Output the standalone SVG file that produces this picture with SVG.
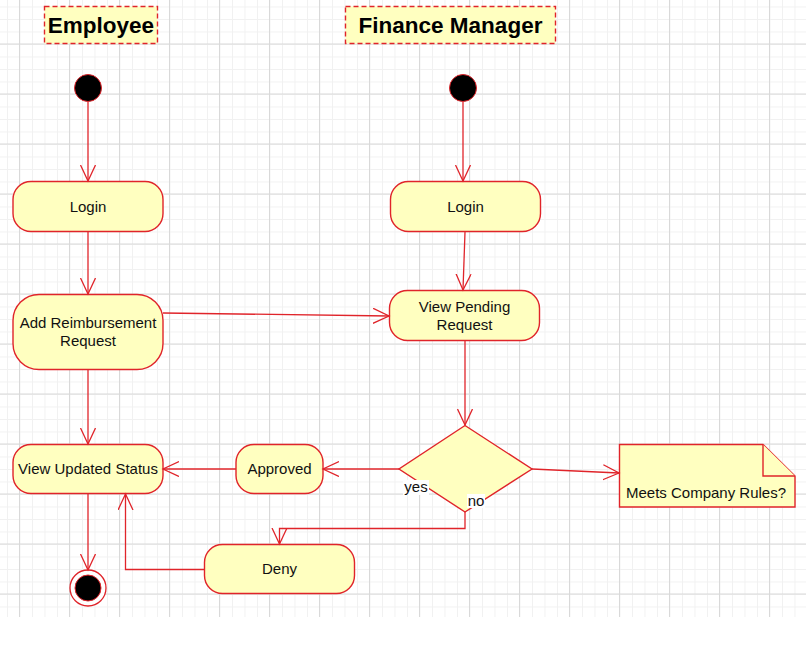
<svg xmlns="http://www.w3.org/2000/svg" width="806" height="672" viewBox="0 0 806 672">
<defs>
<pattern id="minor" width="12.5" height="12.5" patternUnits="userSpaceOnUse" x="7" y="6.5">
<path d="M0,0.5 H12.5 M0.5,0 V12.5" fill="none" stroke="#f1f1f1" stroke-width="1"/>
</pattern>
<pattern id="major" width="50" height="50" patternUnits="userSpaceOnUse" x="19" y="43.5">
<path d="M0,0.5 H50 M0.5,0 V50" fill="none" stroke="#d9d9d9" stroke-width="1"/>
</pattern>
<marker id="arr" markerWidth="18" markerHeight="18" refX="16" refY="8" orient="auto" markerUnits="userSpaceOnUse">
<path d="M0,0.5 L16,8 L0,15.5" fill="none" stroke="#e0242a" stroke-width="1.3"/>
</marker>
<style>
.n{fill:#ffffc0;stroke:#e0242a;stroke-width:1.4}
.t{font-family:"Liberation Sans",Arial,sans-serif;font-size:15px;fill:#111;text-anchor:middle}
.h{font-family:"Liberation Sans",Arial,sans-serif;font-size:22.5px;font-weight:bold;fill:#000;text-anchor:middle}
.title{fill:#ffffc0;stroke:#e0242a;stroke-width:1.4;stroke-dasharray:5,3}
.c{fill:none;stroke:#e0242a;stroke-width:1.3}
.s{fill:#000;stroke:#e0242a;stroke-width:1}
</style>
</defs>
<rect x="0" y="0" width="806" height="672" fill="#fff"/>
<rect x="0" y="0" width="806" height="617" fill="url(#minor)"/>
<rect x="0" y="0" width="806" height="617" fill="url(#major)"/>

<g id="title-employee">
<rect class="title" x="44.5" y="6.5" width="113" height="37"/>
<text class="h" x="101" y="33">Employee</text>
</g>
<g id="title-finance">
<rect class="title" x="345.5" y="6.5" width="210" height="37"/>
<text class="h" x="450.5" y="33">Finance Manager</text>
</g>

<g id="start-employee"><circle class="s" cx="88" cy="88" r="13.5"/></g>
<g id="start-finance"><circle class="s" cx="463" cy="88" r="13.5"/></g>

<g id="login-employee">
<rect class="n" x="13" y="181.5" width="150" height="50" rx="18"/>
<text class="t" x="88" y="212">Login</text>
</g>
<g id="login-finance">
<rect class="n" x="390.5" y="181.5" width="150" height="50" rx="18"/>
<text class="t" x="465.5" y="212">Login</text>
</g>
<g id="add-reimbursement">
<rect class="n" x="13" y="294.5" width="150" height="75" rx="26"/>
<text class="t" x="88" y="328">Add Reimbursement</text>
<text class="t" x="88" y="346">Request</text>
</g>
<g id="view-pending">
<rect class="n" x="389.5" y="290.5" width="150" height="50" rx="18"/>
<text class="t" x="464.5" y="312">View Pending</text>
<text class="t" x="464.5" y="330">Request</text>
</g>
<g id="view-updated">
<rect class="n" x="13" y="444.5" width="150" height="49" rx="18"/>
<text class="t" x="88" y="474">View Updated Status</text>
</g>
<g id="approved">
<rect class="n" x="236" y="444.5" width="87" height="49" rx="18"/>
<text class="t" x="279.5" y="474">Approved</text>
</g>
<g id="decision">
<polygon class="n" points="465,425.5 532,469 465,512 399,469"/>
</g>
<g id="note">
<path class="n" d="M619.5,444.5 H763 L795,476 V507 H619.5 Z"/>
<path class="n" d="M763,444.5 V476 H795"/>
<text class="t" x="706" y="498">Meets Company Rules?</text>
</g>
<g id="deny">
<rect class="n" x="204.5" y="544.5" width="150" height="49" rx="18"/>
<text class="t" x="279.5" y="574">Deny</text>
</g>
<g id="end">
<circle cx="88" cy="588" r="18" fill="#fff" stroke="#e0242a" stroke-width="1.3"/>
<circle class="s" cx="88" cy="588" r="13"/>
</g>

<g id="connectors">
<line class="c" x1="88" y1="102" x2="88" y2="181" marker-end="url(#arr)"/>
<line class="c" x1="463" y1="102" x2="463" y2="181" marker-end="url(#arr)"/>
<line class="c" x1="88" y1="232" x2="88" y2="294" marker-end="url(#arr)"/>
<line class="c" x1="465" y1="232" x2="463" y2="290" marker-end="url(#arr)"/>
<line class="c" x1="163" y1="313" x2="389" y2="316" marker-end="url(#arr)"/>
<line class="c" x1="88" y1="370" x2="88" y2="444" marker-end="url(#arr)"/>
<line class="c" x1="465" y1="341" x2="465" y2="425" marker-end="url(#arr)"/>
<line class="c" x1="399" y1="469" x2="323" y2="469" marker-end="url(#arr)"/>
<line class="c" x1="236" y1="469" x2="163" y2="469" marker-end="url(#arr)"/>
<line class="c" x1="532" y1="469" x2="619" y2="473" marker-end="url(#arr)"/>
<polyline class="c" points="465,512 465,528.5 279.5,528.5 279.5,544" marker-end="url(#arr)"/>
<polyline class="c" points="204,569.5 125.5,569.5 125.5,494" marker-end="url(#arr)"/>
<line class="c" x1="88" y1="494" x2="88" y2="570" marker-end="url(#arr)"/>
<rect x="403" y="480" width="26" height="15" fill="#fff"/>
<text class="t" x="416" y="492">yes</text>
<rect x="467" y="494" width="18" height="14" fill="#fff"/>
<text class="t" x="476" y="506">no</text>
</g>
</svg>
